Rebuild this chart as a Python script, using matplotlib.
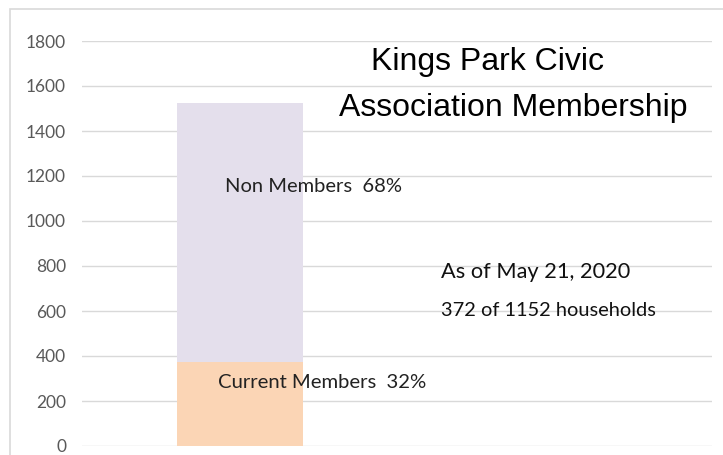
import matplotlib.pyplot as plt
from matplotlib.patches import Rectangle

# membership counts (households)
categories = ["Current Members", "Non Members"]
counts = [372, 1152]
labels = ["Current Members  32%", "Non Members  68%"]
colors = ["#fbd5b5", "#e4dfec"]
yticks = [0, 200, 400, 600, 800, 1000, 1200, 1400, 1600, 1800]

W, H = 723, 455
fig = plt.figure(figsize=(W / 100, H / 100), dpi=100)

# light outer frame (chart area border)
fig.patches.append(Rectangle((10 / W, -0.1), 1.2, 1 - 9 / H + 0.1,
                             transform=fig.transFigure, fill=False,
                             edgecolor="#d9d9d9", linewidth=1.2))

ax = fig.add_axes([82 / W, 1 - 446 / H, (712 - 82) / W, (446 - 41) / H])
ax.set_xlim(0, 1)
ax.set_ylim(0, 1800)

bottom = 0
for c, col in zip(counts, colors):
    ax.bar(0.2508, c, width=0.2, bottom=bottom, color=col, zorder=2)
    bottom += c

ax.set_yticks(yticks)
ax.set_yticklabels([str(t) for t in yticks], fontsize=12.5, color="#595959",
                   family="Lato")
ax.tick_params(axis="y", length=0, pad=11.5)
ax.set_xticks([])
ax.grid(axis="y", color="#d9d9d9", linewidth=1, zorder=0)
for s in ax.spines.values():
    s.set_visible(False)

# data labels
ax.text((218 - 82) / 630, (446 - 383) / 405 * 1800, labels[0],
        fontsize=14.6, family="Lato", va="center", ha="left", color="#222222")
ax.text((225 - 82) / 630, (446 - 186) / 405 * 1800, labels[1],
        fontsize=14.5, family="Lato", va="center", ha="left", color="#222222")

# title and notes
fig.text(487 / W, 1 - 62 / H, "Kings Park Civic", fontsize=23,
         family="Liberation Sans", ha="center", va="center")
fig.text(513 / W, 1 - 108 / H, "Association Membership", fontsize=23,
         family="Liberation Sans", ha="center", va="center")
fig.text(441 / W, 1 - 272 / H, "As of May 21, 2020", fontsize=15.7,
         family="Lato", ha="left", va="center", color="#111111")
fig.text(441 / W, 1 - 311 / H, "372 of 1152 households", fontsize=14.4,
         family="Lato", ha="left", va="center", color="#111111")

fig.savefig("out.png", dpi=100)
